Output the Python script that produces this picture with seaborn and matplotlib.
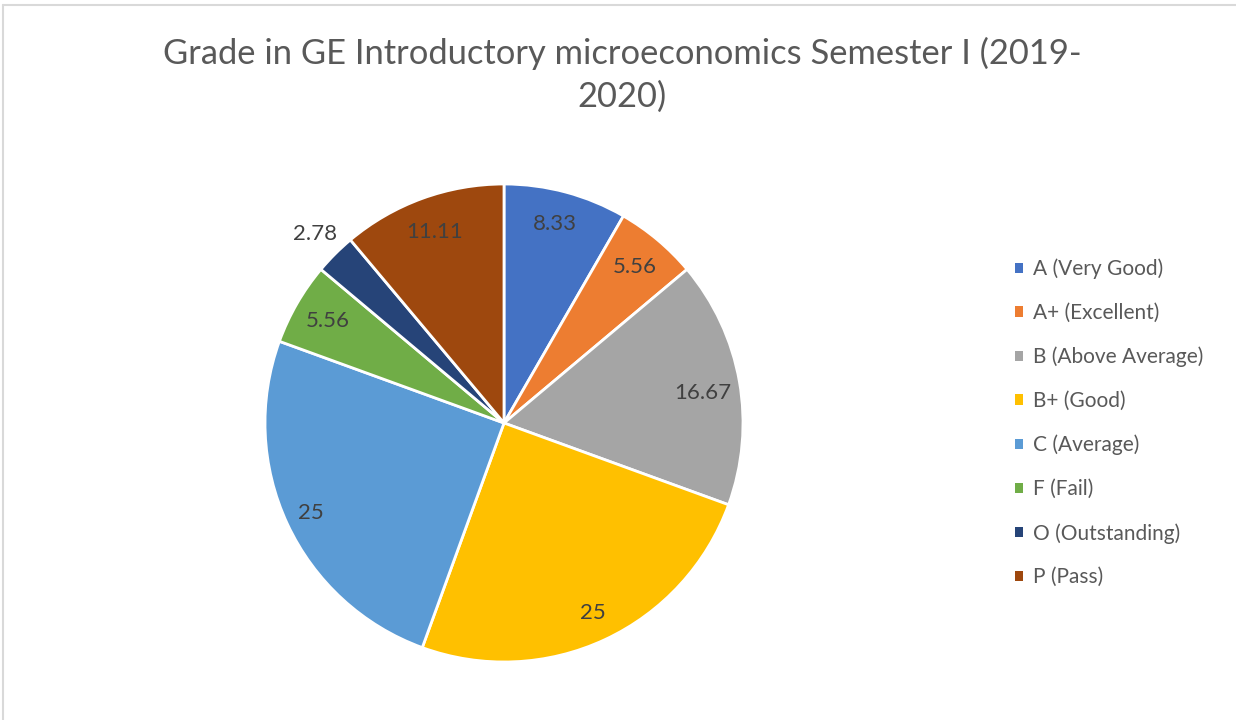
import numpy as np
import matplotlib
matplotlib.use("Agg")
import matplotlib.pyplot as plt
from matplotlib.patches import Rectangle
from matplotlib.lines import Line2D
import seaborn as sns

categories = ["A (Very Good)", "A+ (Excellent)", "B (Above Average)", "B+ (Good)",
              "C (Average)", "F (Fail)", "O (Outstanding)", "P (Pass)"]
values = [8.33, 5.56, 16.67, 25, 25, 5.56, 2.78, 11.11]
value_labels = ["8.33", "5.56", "16.67", "25", "25", "5.56", "2.78", "11.11"]
colors = ["#4472C4", "#ED7D31", "#A5A5A5", "#FFC000", "#5B9BD5", "#70AD47", "#264478", "#9E480E"]
title = "Grade in GE Introductory microeconomics Semester I (2019-\n2020)"

# label layout (radius as fraction of pie radius, angular nudge in degrees)
label_radius = [0.86, 0.85, 0.84, 0.875, 0.89, 0.85, 1.12, 0.85]
label_nudge = [0.7, 0, -1.4, 0, 0, 0, 0, 0]

sns.set_theme(style="white")
plt.rcParams["font.family"] = ["Lato", "DejaVu Sans"]
palette = sns.color_palette(colors)

W, H = 1236, 720
fig = plt.figure(figsize=(W / 100, H / 100), dpi=100)
fig.patch.set_facecolor("white")

cx, cy, R = 504, 423, 239
ax = fig.add_axes([(cx - R) / W, (H - cy - R) / H, 2 * R / W, 2 * R / H])
wedges, _ = ax.pie(values, colors=palette, startangle=90, counterclock=False,
                   radius=1.0, wedgeprops=dict(edgecolor="white", linewidth=2.0))
ax.set_xlim(-1, 1)
ax.set_ylim(-1, 1)
ax.set_aspect("equal")
ax.axis("off")

for w, lab, r, dn in zip(wedges, value_labels, label_radius, label_nudge):
    ang = np.deg2rad((w.theta1 + w.theta2) / 2 + dn)
    ax.text(r * np.cos(ang), r * np.sin(ang), lab, ha="center", va="center",
            fontsize=16, color="#404040")

fig.text(622 / W, 1 - 75 / H, title, ha="center", va="center", fontsize=24.8,
         color="#595959", linespacing=1.4)

handles = [Rectangle((0, 0), 1, 1, facecolor=c, edgecolor="none") for c in palette]
leg = fig.legend(handles, categories, loc="center left",
                 bbox_to_anchor=(1015 / W, 1 - 423 / H), frameon=False,
                 fontsize=15, labelcolor="#595959", handlelength=0.4,
                 handleheight=0.4, handletextpad=0.45, labelspacing=1.14,
                 borderpad=0, borderaxespad=0)

fig.add_artist(Line2D([3 / W, 3 / W], [0, 1 - 5 / H], color="#D9D9D9", lw=1.5,
                      transform=fig.transFigure))
fig.add_artist(Line2D([3 / W, 1], [1 - 5 / H, 1 - 5 / H], color="#D9D9D9", lw=1.5,
                      transform=fig.transFigure))

fig.savefig("out.png", dpi=100, facecolor="white")
